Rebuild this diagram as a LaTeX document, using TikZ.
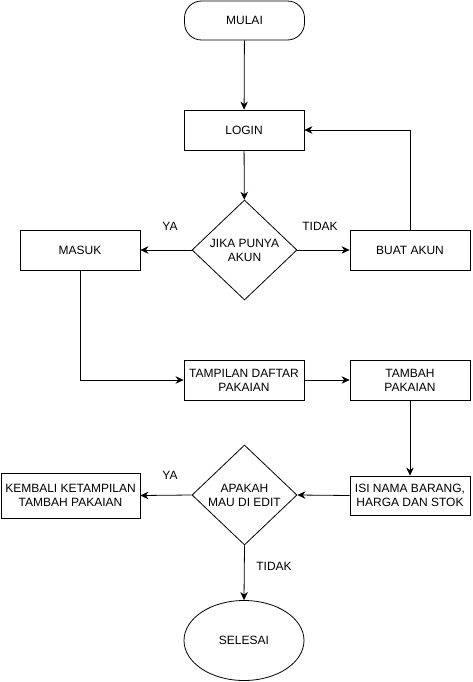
\documentclass[tikz,border=0pt]{standalone}
\usepackage{fontspec}
\setmainfont{Liberation Sans}
\usetikzlibrary{shapes.geometric,arrows.meta}
\begin{document}
\begin{tikzpicture}[x=1pt,y=-1pt,
  every node/.style={font=\fontsize{12}{14}\selectfont, align=center, inner sep=0pt},
  box/.style={draw, line width=0.8pt, minimum width=120pt, minimum height=40pt},
  term/.style={draw, line width=0.8pt, rounded corners=17pt, minimum width=120pt, minimum height=39pt},
  dec/.style={draw, line width=0.8pt, diamond, minimum width=105pt, minimum height=100pt, aspect=1.05},
  endn/.style={draw, line width=0.8pt, ellipse, minimum width=120pt, minimum height=80pt},
  lbl/.style={font=\fontsize{12}{14}\selectfont},
  conn/.style={line width=0.8pt, -{Stealth[length=8pt,width=7.5pt,inset=2.5pt]}}
]
\useasboundingbox (0,0) rectangle (472,682);
\node[term] (mulai) at (244.5,20.5) {MULAI};
\node[box] (login) at (244,130) {LOGIN};
\node[dec] (jika) at (244.5,250) {JIKA PUNYA\\AKUN};
\node[box] (masuk) at (80,250) {MASUK};
\node[box] (buat) at (410,250) {BUAT AKUN};
\node[box] (tampil) at (244,380) {TAMPILAN DAFTAR\\PAKAIAN};
\node[box] (tambah) at (410,380) {TAMBAH\\PAKAIAN};
\node[box, minimum height=39pt] (isi) at (410,495.5) {ISI NAMA BARANG,\\HARGA DAN STOK};
\node[dec] (apakah) at (244.5,495) {APAKAH\\MAU DI EDIT};
\node[box, minimum width=139pt, minimum height=45pt] (kembali) at (70.5,495.5) {KEMBALI KETAMPILAN\\TAMBAH PAKAIAN};
\node[endn] (selesai) at (244,640.5) {SELESAI};

\node[lbl] (ya1) at (170,226) {YA};
\node[lbl] (tidak1) at (320,226) {TIDAK};
\node[lbl] (ya2) at (170,475) {YA};
\node[lbl] (tidak2) at (274,566) {TIDAK};

\draw[conn] (mulai) -- (login);
\draw[conn] (login) -- (jika);
\draw[conn] (jika.west) -- (masuk.east);
\draw[conn] (jika.east) -- (buat.west);
\draw[conn] (buat.north) |- (login.east);
\draw[conn] (masuk.south) |- (tampil.west);
\draw[conn] (tampil.east) -- (tambah.west);
\draw[conn] (tambah.south) -- (isi.north);
\draw[conn] (isi.west) -- (apakah.east);
\draw[conn] (apakah.west) -- (kembali.east);
\draw[conn] (apakah.south) -- (selesai.north);
\end{tikzpicture}
\end{document}
